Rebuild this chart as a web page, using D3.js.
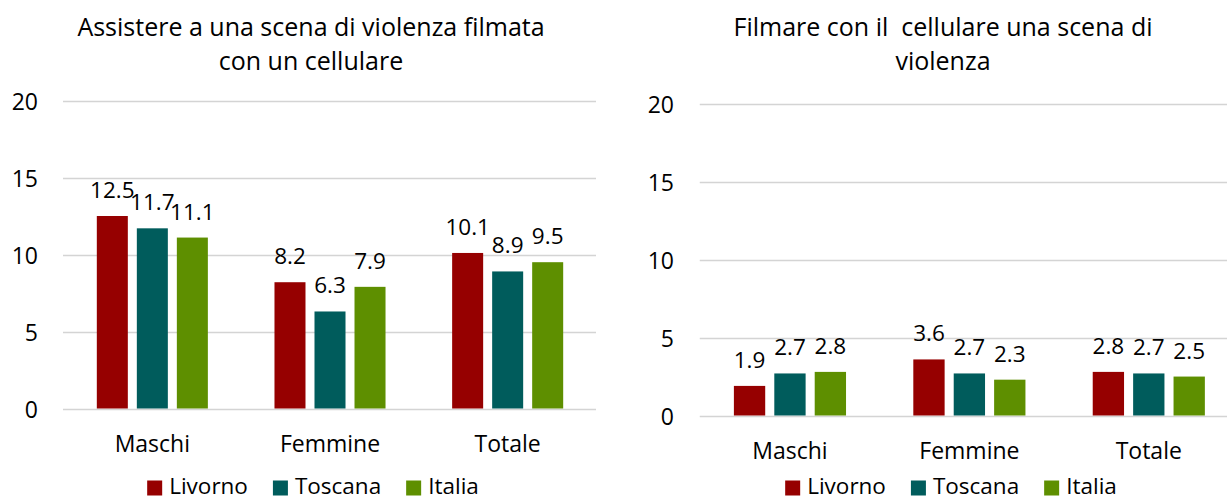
<!DOCTYPE html>
<html>
<head>
<meta charset="utf-8">
<script src="https://cdn.jsdelivr.net/npm/d3@7"></script>
<style>
  body { margin: 0; background: #fff; }
  svg { display: block; font-family: "Open Sans", sans-serif; }
  text { fill: #000; }
</style>
</head>
<body>
<svg id="chart" width="1227" height="501"></svg>
<script>
const categories = ['Maschi', 'Femmine', 'Totale'];
const seriesNames = ['Livorno', 'Toscana', 'Italia'];
const colors = ['#960000', '#005c5c', '#5e8f00'];
const yTicks = [0, 5, 10, 15, 20];

// values per category: [Livorno, Toscana, Italia]
const assistereValues = [
    [12.5, 11.7, 11.1],
    [8.2, 6.3, 7.9],
    [10.1, 8.9, 9.5]
];
const filmareValues = [
    [1.9, 2.7, 2.8],
    [3.6, 2.7, 2.3],
    [2.8, 2.7, 2.5]
];

const assistereTitle = ['Assistere a una scena di violenza filmata', 'con un cellulare'];
const filmareTitle = ['Filmare con il  cellulare una scena di', 'violenza'];

const svg = d3.select('#chart');

const panels = [
    {
        title: assistereTitle, values: assistereValues,
        left: 63.5, right: 596.5, gridRight: 596, bottom: 408.5, top: 100.5,
        tickX: 38, titleX: 311, catY: 451.5, legendCx: 313
    },
    {
        title: filmareTitle, values: filmareValues,
        left: 700.25, right: 1238.5, gridRight: 1227, bottom: 415.5, top: 104,
        tickX: 674, titleX: 943, catY: 459, legendCx: 951
    }
];

panels.forEach((p) => {
    const g = svg.append('g');

    const x = d3.scaleBand().domain(categories).range([p.left, p.right]);
    const groupW = x.bandwidth() * 0.625;
    const xs = d3.scaleBand().domain(seriesNames)
        .range([-groupW / 2, groupW / 2]).paddingInner(0.225);
    const y = d3.scaleLinear().domain([0, 20]).range([p.bottom, p.top]);

    // title
    g.append('text')
        .attr('x', p.titleX)
        .attr('y', 35.7)
        .attr('text-anchor', 'middle')
        .style('font-size', '25px')
        .style('white-space', 'pre')
        .selectAll('tspan')
        .data(p.title)
        .join('tspan')
        .attr('x', p.titleX)
        .attr('dy', (d, i) => (i === 0 ? 0 : 34.5))
        .text((d) => d);

    // gridlines
    g.append('g')
        .selectAll('line')
        .data(yTicks)
        .join('line')
        .attr('x1', p.left - 0.5)
        .attr('x2', p.gridRight)
        .attr('y1', (d) => Math.round(y(d)) + 0.5)
        .attr('y2', (d) => Math.round(y(d)) + 0.5)
        .attr('stroke', '#d4d4d4')
        .attr('stroke-width', (d) => (d === 0 ? 1.6 : 1.3));

    // y tick labels
    g.append('g')
        .selectAll('text')
        .data(yTicks)
        .join('text')
        .attr('x', p.tickX)
        .attr('y', (d) => y(d) + 9)
        .attr('text-anchor', 'end')
        .style('font-size', '23px')
        .text((d) => d);

    // bars
    const groups = g.append('g')
        .selectAll('g')
        .data(categories)
        .join('g')
        .attr('transform', (d) => `translate(${x(d) + x.bandwidth() / 2},0)`);

    groups.selectAll('rect')
        .data((d, i) => p.values[i].map((v, j) => ({ v, s: seriesNames[j], c: colors[j] })))
        .join('rect')
        .attr('x', (d) => xs(d.s))
        .attr('width', xs.bandwidth())
        .attr('y', (d) => y(d.v))
        .attr('height', (d) => y(0) - y(d.v))
        .attr('fill', (d) => d.c);

    groups.selectAll('text.val')
        .data((d, i) => p.values[i].map((v, j) => ({ v, s: seriesNames[j] })))
        .join('text')
        .classed('val', true)
        .attr('x', (d) => xs(d.s) + xs.bandwidth() / 2)
        .attr('y', (d) => y(d.v) - 18)
        .attr('text-anchor', 'middle')
        .style('font-size', '22.5px')
        .text((d) => d.v.toFixed(1));

    // category labels
    g.append('g')
        .selectAll('text')
        .data(categories)
        .join('text')
        .attr('x', (d) => x(d) + x.bandwidth() / 2)
        .attr('y', p.catY)
        .attr('text-anchor', 'middle')
        .style('font-size', '23px')
        .text((d) => d);

    // legend (kept just inside the bottom edge)
    const leg = g.append('g');
    const items = leg.selectAll('g')
        .data(seriesNames)
        .join('g');
    items.append('rect')
        .attr('width', 15)
        .attr('height', 15)
        .attr('y', 480.5)
        .attr('fill', (d, i) => colors[i]);
    items.append('text')
        .attr('x', 22)
        .attr('y', 494)
        .style('font-size', '22.5px')
        .text((d) => d);
    let cx = 0;
    items.each(function () {
        const w = d3.select(this).select('text').node().getComputedTextLength();
        d3.select(this).attr('transform', `translate(${cx},0)`);
        cx += 22 + w + 25;
    });
    const total = cx - 25;
    leg.attr('transform', `translate(${p.legendCx - total / 2},0)`);
});
</script>
</body>
</html>
